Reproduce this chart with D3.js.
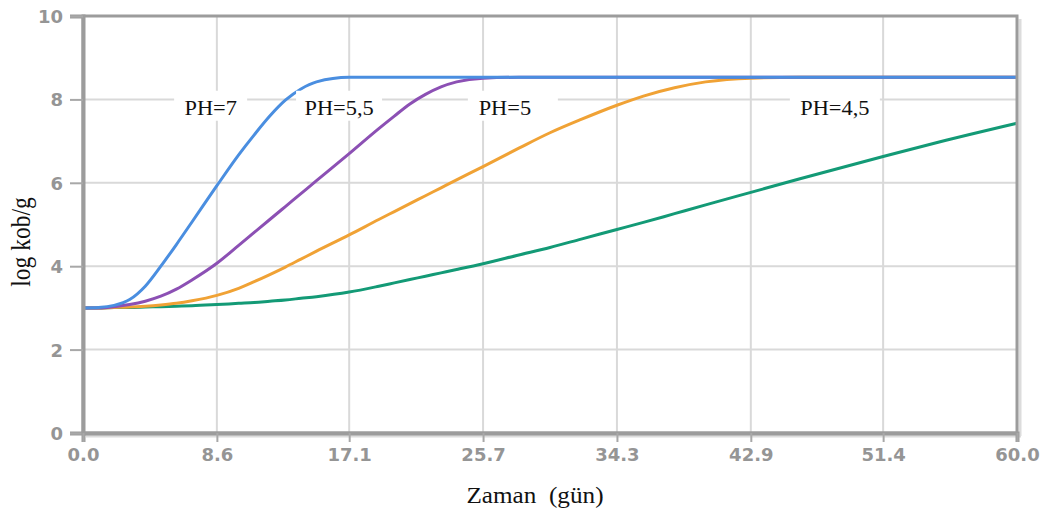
<!DOCTYPE html>
<html>
<head>
<meta charset="utf-8">
<script src="https://cdn.jsdelivr.net/npm/d3@7"></script>
<style>
  html, body { margin: 0; padding: 0; background: #fff; }
  svg { display: block; }
</style>
</head>
<body>
<div id="chart"></div>
<script>
// days sampled along the x axis
const days = [0, 1, 2, 3, 4, 5, 6, 7, 8.6, 10, 11, 12, 13, 14, 15, 17.1, 19, 20, 21, 22, 23, 24, 25.7, 28, 30, 32, 34.3, 36, 38, 40, 42.9, 46, 51.4, 55, 60];

// log kob/g for each pH
const ph7  = [3.0, 3.01, 3.06, 3.2, 3.52, 4.0, 4.52, 5.06, 5.93, 6.67, 7.15, 7.6, 7.98, 8.25, 8.42, 8.53, 8.53, 8.53, 8.53, 8.53, 8.53, 8.53, 8.53, 8.53, 8.53, 8.53, 8.53, 8.53, 8.53, 8.53, 8.53, 8.53, 8.53, 8.53, 8.53];
const ph55 = [3.0, 3.0, 3.03, 3.08, 3.16, 3.28, 3.45, 3.67, 4.07, 4.5, 4.81, 5.12, 5.43, 5.74, 6.05, 6.7, 7.3, 7.6, 7.89, 8.12, 8.3, 8.42, 8.51, 8.53, 8.53, 8.53, 8.53, 8.53, 8.53, 8.53, 8.53, 8.53, 8.53, 8.53, 8.53];
const ph5  = [3.0, 3.0, 3.01, 3.02, 3.04, 3.07, 3.11, 3.17, 3.3, 3.47, 3.63, 3.8, 3.98, 4.17, 4.36, 4.75, 5.12, 5.31, 5.5, 5.69, 5.88, 6.07, 6.39, 6.83, 7.2, 7.52, 7.86, 8.08, 8.28, 8.42, 8.51, 8.53, 8.53, 8.53, 8.53];
const ph45 = [3.0, 3.0, 3.01, 3.01, 3.02, 3.03, 3.04, 3.05, 3.08, 3.11, 3.13, 3.16, 3.19, 3.23, 3.27, 3.38, 3.52, 3.6, 3.68, 3.76, 3.84, 3.92, 4.06, 4.27, 4.45, 4.65, 4.88, 5.05, 5.26, 5.47, 5.77, 6.09, 6.63, 6.98, 7.43];

const seriesNames = ['PH=7', 'PH=5,5', 'PH=5', 'PH=4,5'];
const seriesColors = ['#4a8ee0', '#8c50b4', '#f0a235', '#139a76'];

// label placement (day, value) and tick values
const labelDays = [8.2, 16.45, 27.1, 48.3];
const labelValue = 7.8;
const xTicks = [0, 8.6, 17.1, 25.7, 34.3, 42.9, 51.4, 60];
const yTicks = [0, 2, 4, 6, 8, 10];

const width = 1051, height = 509;
const margin = { top: 16, right: 34, bottom: 76, left: 83 };
const stretch = 1.12; // the picture is a little wider than tall

const svg = d3.select('#chart').append('svg')
    .attr('width', width)
    .attr('height', height);

const x = d3.scaleLinear().domain([0, 60]).range([margin.left, width - margin.right]);
const y = d3.scaleLinear().domain([0, 10]).range([height - margin.bottom, margin.top]);

// gridlines
svg.append('g').selectAll('line').data(xTicks).join('line')
    .attr('x1', d => x(d)).attr('x2', d => x(d))
    .attr('y1', y(10)).attr('y2', y(0))
    .attr('stroke', '#d9d9d9').attr('stroke-width', 2);
svg.append('g').selectAll('line').data(yTicks).join('line')
    .attr('x1', x(0)).attr('x2', x(60))
    .attr('y1', d => y(d)).attr('y2', d => y(d))
    .attr('stroke', '#d9d9d9').attr('stroke-width', 2);

// curves
const allSeries = [ph7, ph55, ph5, ph45];
const line = d3.line()
    .x((d, i) => x(days[i]))
    .y(d => y(d))
    .curve(d3.curveMonotoneX);

allSeries.slice().reverse().forEach((vals, j) => {
    const i = allSeries.length - 1 - j;
    svg.append('path')
        .datum(vals)
        .attr('fill', 'none')
        .attr('stroke', seriesColors[i])
        .attr('stroke-width', 3)
        .attr('stroke-linejoin', 'round')
        .attr('d', line);
});

// white-backed curve labels
const labels = svg.append('g');
seriesNames.forEach((name, i) => {
    const cx = x(labelDays[i]), cy = y(labelValue);
    const w = i === 0 ? 73 : (i === 1 ? 86 : 90);
    labels.append('rect')
        .attr('x', cx - w / 2 + (i === 2 ? 8 : 0)).attr('y', cy - 17)
        .attr('width', w).attr('height', 30)
        .attr('fill', '#fff');
    labels.append('text')
        .attr('transform', `translate(${cx},${cy + 7}) scale(${stretch},1)`)
        .attr('text-anchor', 'middle')
        .attr('font-family', '"Liberation Serif", "Times New Roman", serif')
        .attr('font-size', 20)
        .attr('fill', '#111')
        .text(name);
});

// frame with a soft shadow on the right and bottom
svg.append('line')
    .attr('x1', x(60) + 3).attr('x2', x(60) + 3)
    .attr('y1', y(10) + 3).attr('y2', y(0) + 3)
    .attr('stroke', '#dcdcdc').attr('stroke-width', 3);
svg.append('line')
    .attr('x1', x(0) + 3).attr('x2', x(60) + 4)
    .attr('y1', y(0) + 3).attr('y2', y(0) + 3)
    .attr('stroke', '#dcdcdc').attr('stroke-width', 3);
svg.append('rect')
    .attr('x', x(0)).attr('y', y(10))
    .attr('width', x(60) - x(0)).attr('height', y(0) - y(10))
    .attr('fill', 'none')
    .attr('stroke', '#9c9c9c').attr('stroke-width', 3);

// axes
const tickFont = '"DejaVu Sans", Verdana, sans-serif';
const yAxis = svg.append('g')
    .attr('transform', `translate(${x(0)},0)`)
    .call(d3.axisLeft(y).tickValues(yTicks).tickSize(13).tickPadding(6).tickFormat(d3.format('d')));
const xAxis = svg.append('g')
    .attr('transform', `translate(0,${y(0)})`)
    .call(d3.axisBottom(x).tickValues(xTicks).tickSize(9).tickPadding(6).tickFormat(d3.format('.1f')));

[yAxis, xAxis].forEach(g => {
    g.attr('font-size', null).attr('font-family', null);
    g.select('.domain').attr('stroke', '#9c9c9c').attr('stroke-width', 4);
    g.selectAll('.tick line').attr('stroke', '#a8a8a8').attr('stroke-width', 2);
    g.selectAll('.tick text')
        .style('font-family', tickFont)
        .style('font-size', '18px')
        .style('font-weight', 'bold')
        .attr('fill', '#959595');
});
yAxis.selectAll('.tick text').attr('x', -20).attr('dy', '0.36em');
xAxis.selectAll('.tick text').attr('y', 14).attr('dy', '0.8em');

// axis titles
svg.append('text')
    .attr('transform', `translate(535,503) scale(${stretch},1)`)
    .attr('text-anchor', 'middle')
    .attr('font-family', '"Liberation Serif", "Times New Roman", serif')
    .attr('font-size', 22.5)
    .attr('fill', '#111')
    .text('Zaman\u00a0\u00a0(gün)');

svg.append('text')
    .attr('transform', `translate(30,242) scale(${stretch},1) rotate(-90)`)
    .attr('text-anchor', 'middle')
    .attr('font-family', '"Liberation Serif", "Times New Roman", serif')
    .attr('font-size', 23.5)
    .attr('fill', '#111')
    .text('log kob/g');
</script>
</body>
</html>
